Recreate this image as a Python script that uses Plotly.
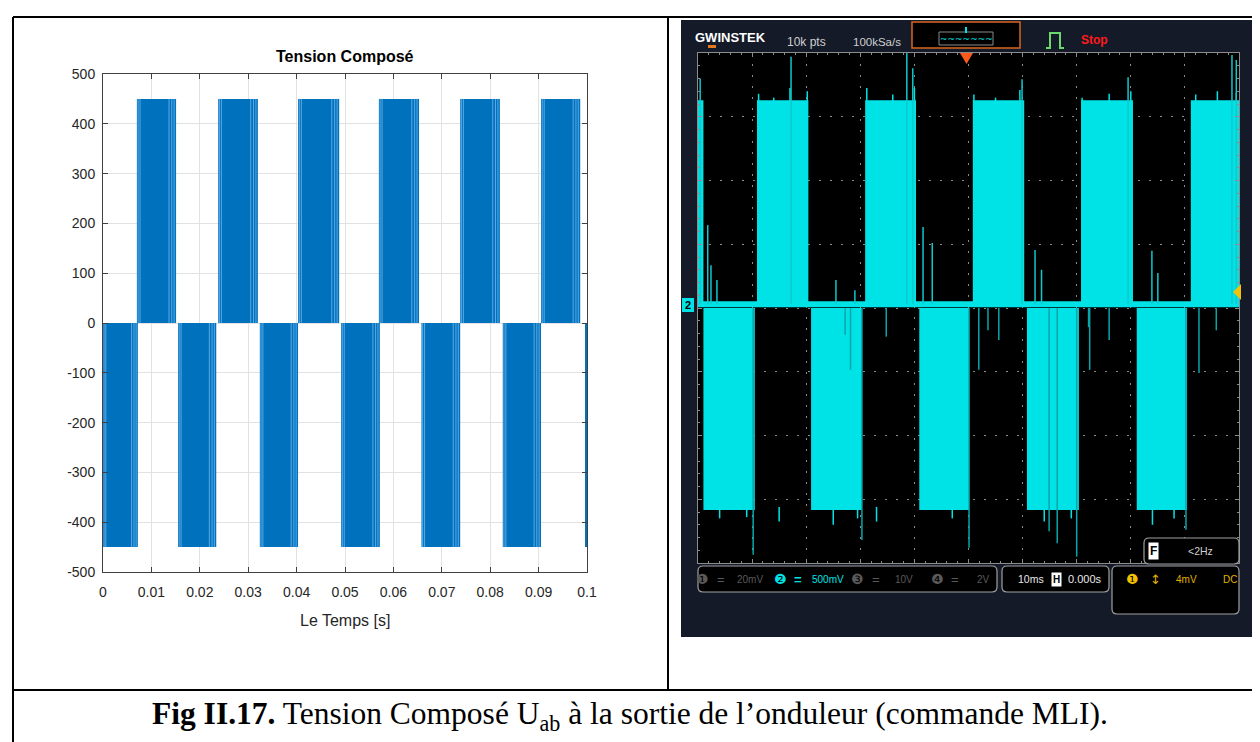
import plotly.graph_objects as go

W, H = 1260, 742
# measured placement of the plot paper inside the captured page
OX, OY, FW, FH = 12, 16, 1246, 726

# ---------------- Left panel: simulated line voltage (MATLAB) ----------------
sim_pos_start = [0.0070, 0.0238, 0.0403, 0.0570, 0.0738, 0.0905]
sim_pos_end = [0.0151, 0.0320, 0.0488, 0.0653, 0.0820, 0.0986]
sim_neg_start = [0.0000, 0.0155, 0.0324, 0.0492, 0.0658, 0.0826, 0.0996]
sim_neg_end = [0.0072, 0.0234, 0.0403, 0.0572, 0.0738, 0.0905, 0.1000]
sim_level = 450
stripe_frac = [0.03, 0.08, 0.82, 0.89, 0.95]
x_ticks = [0, 0.01, 0.02, 0.03, 0.04, 0.05, 0.06, 0.07, 0.08, 0.09, 0.1]
x_tick_text = ["0", "0.01", "0.02", "0.03", "0.04", "0.05", "0.06", "0.07", "0.08", "0.09", "0.1"]
y_ticks = [-500, -400, -300, -200, -100, 0, 100, 200, 300, 400, 500]
y_tick_text = ["-500", "-400", "-300", "-200", "-100", "0", "100", "200", "300", "400", "500"]

# ---------------- Right panel: oscilloscope capture (divisions) ----------------
scope_pos_start = [-5.00, -3.91, -1.91, 0.08, 2.08, 4.11]
scope_pos_end = [-4.90, -2.96, -0.97, 1.03, 3.04, 5.00]
scope_neg_start = [-4.90, -2.91, -0.91, 1.08, 3.11]
scope_neg_end = [-3.95, -1.97, 0.01, 2.04, 4.04]
scope_pos_level = 3.26
scope_neg_level = -3.17
scope_baseline = 0.06
spike_up_x = [-4.96, -3.28, -1.14, -1.03, 0.99, 2.95, 4.87, 4.95,
              -4.82, -4.76, -4.65, -2.45, -2.10, -0.84, -0.67, 1.23, 1.35, 3.39, 3.50]
spike_up_y = [3.60, 3.94, 4.02, 3.76, 3.59, 3.62, 3.97, 3.89,
              1.30, 0.67, 0.44, 0.44, 0.28, 1.27, 1.02, 0.91, 0.60, 0.90, 0.55]
spike_dn_x = [-3.98, -1.97, 0.01, 2.00, 4.02, 0.19, 0.36, 0.56, 2.24, 2.22, 2.60,
              4.26, 4.58, -2.28, -2.18, -1.52, 1.49, 1.64]
spike_dn_y = [-3.87, -3.64, -3.76, -3.90, -3.48, -0.97, -0.35, -0.50, -0.97, -0.30, -0.50,
              -1.02, -0.35, -0.42, -0.97, -0.45, -3.50, -3.69]
top_noise_x = [-3.88, -3.60, -3.30, -2.98, -1.88, -1.40, -1.00, 0.10, 0.50, 0.95,
               2.10, 2.60, 3.00, 4.20, 4.60, 4.95]
top_noise_y = [3.36, 3.30, 3.45, 3.40, 3.45, 3.35, 3.45, 3.35, 3.30, 3.42,
               3.30, 3.36, 3.40, 3.35, 3.40, 3.38]
bot_noise_x = [-4.60, -4.10, -3.50, -2.50, -2.05, -1.70, -0.30, 1.40, 1.90, 3.40, 3.80]
bot_noise_y = [-3.30, -3.28, -3.35, -3.40, -3.30, -3.35, -3.30, -3.35, -3.30, -3.40, -3.30]


def px(x):
    return (x - OX) / FW


def py(y):
    return 1 - (y - OY) / FH


def rrect(x0, y0, x1, y1, r):
    X0, X1 = px(x0), px(x1)
    Y0, Y1 = py(y0), py(y1)
    rx, ry = r / FW, r / FH
    return (f"M {X0+rx},{Y0} L {X1-rx},{Y0} Q {X1},{Y0} {X1},{Y0-ry} "
            f"L {X1},{Y1+ry} Q {X1},{Y1} {X1-rx},{Y1} L {X0+rx},{Y1} "
            f"Q {X0},{Y1} {X0},{Y1+ry} L {X0},{Y0-ry} Q {X0},{Y0} {X0+rx},{Y0} Z")


fig = go.Figure()

# ---- left panel traces ----
blue = "#0072BD"
fig.add_trace(go.Bar(
    x=[(a + b) / 2 for a, b in zip(sim_pos_start, sim_pos_end)],
    width=[b - a for a, b in zip(sim_pos_start, sim_pos_end)],
    y=[sim_level] * len(sim_pos_start),
    marker=dict(color=blue, line=dict(width=0)), xaxis="x", yaxis="y"))
fig.add_trace(go.Bar(
    x=[(a + b) / 2 for a, b in zip(sim_neg_start, sim_neg_end)],
    width=[b - a for a, b in zip(sim_neg_start, sim_neg_end)],
    y=[-sim_level] * len(sim_neg_start),
    marker=dict(color=blue, line=dict(width=0)), xaxis="x", yaxis="y"))

sx, sy = [], []
for starts, ends, lev in ((sim_pos_start, sim_pos_end, sim_level),
                          (sim_neg_start, sim_neg_end, -sim_level)):
    for a, b in zip(starts, ends):
        if b - a < 0.002:
            continue
        for f in stripe_frac:
            t = a + f * (b - a)
            sx += [t, t, None]
            sy += [0, lev, None]
fig.add_trace(go.Scatter(x=sx, y=sy, mode="lines", line=dict(color="#5aa9e6", width=1),
                         xaxis="x", yaxis="y"))

# ---- scope traces ----
cyan = "#00E3E6"
fig.add_trace(go.Bar(
    x=[(a + b) / 2 for a, b in zip(scope_pos_start, scope_pos_end)],
    width=[b - a for a, b in zip(scope_pos_start, scope_pos_end)],
    y=[scope_pos_level - scope_baseline] * len(scope_pos_start),
    base=[scope_baseline] * len(scope_pos_start),
    marker=dict(color=cyan, line=dict(width=0)), xaxis="x2", yaxis="y2"))
fig.add_trace(go.Bar(
    x=[(a + b) / 2 for a, b in zip(scope_neg_start, scope_neg_end)],
    width=[b - a for a, b in zip(scope_neg_start, scope_neg_end)],
    y=[scope_neg_level] * len(scope_neg_start),
    base=[0] * len(scope_neg_start),
    marker=dict(color=cyan, line=dict(width=0)), xaxis="x2", yaxis="y2"))
fig.add_trace(go.Scatter(x=[-5, 5], y=[scope_baseline, scope_baseline], mode="lines",
                         line=dict(color=cyan, width=6), xaxis="x2", yaxis="y2"))
nx, ny = [], []
for x, y in zip(top_noise_x, top_noise_y):
    nx += [x, x, None]
    ny += [scope_pos_level - 0.05, y, None]
for x, y in zip(bot_noise_x, bot_noise_y):
    nx += [x, x, None]
    ny += [scope_neg_level + 0.05, y, None]
fig.add_trace(go.Scatter(x=nx, y=ny, mode="lines", line=dict(color=cyan, width=1.5),
                         xaxis="x2", yaxis="y2"))
ux, uy = [], []
for x, y in zip(spike_up_x, spike_up_y):
    ux += [x, x, None]
    uy += [scope_baseline, y, None]
fig.add_trace(go.Scatter(x=ux, y=uy, mode="lines", line=dict(color="#10c8cc", width=1.5),
                         xaxis="x2", yaxis="y2"))
dx, dy = [], []
for x, y in zip(spike_dn_x, spike_dn_y):
    dx += [x, x, None]
    dy += [0, y, None]
fig.add_trace(go.Scatter(x=dx, y=dy, mode="lines", line=dict(color="#0aa5aa", width=1.5),
                         xaxis="x2", yaxis="y2"))

# ---- axes ----
axis_col = "#404040"
txt_col = "#262626"
fig.update_layout(
    width=W, height=H, margin=dict(l=0, r=0, t=0, b=0),
    paper_bgcolor="white", plot_bgcolor="white", showlegend=False,
    barmode="overlay", hovermode=False,
    font=dict(family="Liberation Sans, Arial, sans-serif", color=txt_col),
    xaxis=dict(domain=[px(103), px(587)], range=[0, 0.1], tickvals=x_ticks, ticktext=x_tick_text,
               ticks="inside", ticklen=5, tickcolor=axis_col, mirror="allticks", showline=True,
               linecolor=axis_col, linewidth=1, showgrid=True, gridcolor="#e2e2e2", zeroline=False,
               tickfont=dict(size=14, color=txt_col), ticklabelstandoff=7),
    yaxis=dict(domain=[py(572), py(74)], range=[-500, 500], tickvals=y_ticks, ticktext=y_tick_text,
               ticks="inside", ticklen=5, tickcolor=axis_col, mirror="allticks", showline=True,
               linecolor=axis_col, linewidth=1, showgrid=True, gridcolor="#e2e2e2", zeroline=False,
               tickfont=dict(size=14, color=txt_col), ticklabelstandoff=4),
    xaxis2=dict(domain=[px(698), px(1239)], range=[-5, 5], dtick=1, anchor="y2",
                showticklabels=False, showgrid=True, gridcolor="#8a8a8a", griddash="2px,9px",
                zeroline=False, showline=True, linecolor="#8c8c8c", mirror="allticks",
                ticks="inside", ticklen=4, tickcolor="#8c8c8c",
                minor=dict(dtick=0.2, ticks="inside", ticklen=2, tickcolor="#8c8c8c", showgrid=False)),
    yaxis2=dict(domain=[py(563), py(53)], range=[-4, 4], dtick=1, anchor="x2",
                showticklabels=False, showgrid=True, gridcolor="#8a8a8a", griddash="2px,9px",
                zeroline=False, showline=True, linecolor="#8c8c8c", mirror="allticks",
                ticks="inside", ticklen=4, tickcolor="#8c8c8c",
                minor=dict(dtick=0.2, ticks="inside", ticklen=2, tickcolor="#8c8c8c", showgrid=False)),
)

shapes = []
shapes.append(dict(type="rect", xref="paper", yref="paper", x0=px(681), x1=px(1256), y0=py(637), y1=py(20),
                   fillcolor="#141a28", line=dict(width=0), layer="below"))
shapes.append(dict(type="rect", xref="paper", yref="paper", x0=px(698), x1=px(1239), y0=py(563), y1=py(53),
                   fillcolor="black", line=dict(width=0), layer="below"))
shapes.append(dict(type="rect", xref="paper", yref="paper", x0=px(708), x1=px(716), y0=py(48), y1=py(45),
                   fillcolor="#e87722", line=dict(width=0)))
shapes.append(dict(type="rect", xref="paper", yref="paper", x0=px(912), x1=px(1020), y0=py(48), y1=py(22),
                   fillcolor="black", line=dict(color="#d9661f", width=1.5)))
shapes.append(dict(type="rect", xref="paper", yref="paper", x0=px(939), x1=px(993), y0=py(45), y1=py(32),
                   fillcolor="black", line=dict(color="#8a8a8a", width=1)))
shapes.append(dict(type="line", xref="paper", yref="paper", x0=px(966), x1=px(966), y0=py(33), y1=py(27),
                   line=dict(color=cyan, width=2)))
gp = [(1046, 48), (1050, 48), (1050, 33), (1060, 33), (1060, 48), (1064, 48)]
shapes.append(dict(type="path", xref="paper", yref="paper",
                   path="M " + " L ".join(f"{px(a)},{py(b)}" for a, b in gp),
                   line=dict(color="#6ad86a", width=2)))
shapes.append(dict(type="path", xref="paper", yref="paper",
                   path=f"M {px(960)},{py(53)} L {px(973)},{py(53)} L {px(966.5)},{py(64)} Z",
                   fillcolor="#ff5a1e", line=dict(width=0)))
shapes.append(dict(type="rect", xref="paper", yref="paper", x0=px(682), x1=px(694), y0=py(312), y1=py(298),
                   fillcolor=cyan, line=dict(width=0)))
shapes.append(dict(type="path", xref="paper", yref="paper",
                   path=f"M {px(1241)},{py(284)} L {px(1233)},{py(292)} L {px(1241)},{py(300)} Z",
                   fillcolor="#f4c20d", line=dict(width=0)))
for (a, b, c, d) in [(698, 566, 997, 592), (1002, 566, 1109, 592), (1112, 566, 1239, 614),
                     (1144, 538, 1239, 564)]:
    shapes.append(dict(type="path", xref="paper", yref="paper", path=rrect(a, b, c, d, 5),
                       fillcolor="black", line=dict(color="#a0a0a0", width=1.2)))
for (a, b, c, d) in [(13, 17, 1257, 17), (13, 17, 13, 742), (1257, 17, 1257, 742),
                     (668, 17, 668, 690), (13, 690, 1257, 690)]:
    shapes.append(dict(type="line", xref="paper", yref="paper", x0=px(a), y0=py(b), x1=px(c), y1=py(d),
                       line=dict(color="black", width=2)))
fig.update_layout(shapes=shapes)

ann = []


def T(text, x, y, size, color, family="Liberation Sans, Arial, sans-serif", xanchor="center", **kw):
    ann.append(dict(text=text, x=px(x), y=py(y), xref="paper", yref="paper", showarrow=False,
                    xanchor=xanchor, yanchor="middle", font=dict(size=size, color=color, family=family), **kw))


T("<b>Tension Composé</b>", 345, 57, 16, "#000000")
T("Le Temps [s]", 345, 620, 16, txt_col)
T("<b>Fig II.17.</b> Tension Composé U<sub>ab</sub> à la sortie de l’onduleur (commande MLI).",
  630, 716, 31.5, "black", family="Liberation Serif, Times New Roman, serif")

sans = "Liberation Sans, Arial, sans-serif"
T("<b>GWINSTEK</b>", 730, 37, 13, "white", family=sans)
T("10k pts", 806, 42, 12, "#cfcfcf", family=sans)
T("100kSa/s", 877, 42, 11.5, "#cfcfcf", family=sans)
T("~~~~~~~", 966, 39, 9, cyan, family="DejaVu Sans")
T("<b>Stop</b>", 1094, 40, 12, "#ff1a1a", family=sans)
T("<b>2</b>", 688, 305, 11, "black", family=sans)

T("❶", 702, 579, 14, "#5a5a5a", family="DejaVu Sans")
T("=", 721, 579, 13, "#5a5a5a", family=sans)
T("20mV", 750, 579, 10, "#5a5a5a", family=sans)
T("❷", 780, 579, 14, cyan, family="DejaVu Sans")
T("<b>=</b>", 798, 579, 13, cyan, family=sans)
T("500mV", 828, 579, 10, cyan, family=sans)
T("❸", 857, 579, 14, "#5a5a5a", family="DejaVu Sans")
T("=", 876, 579, 13, "#5a5a5a", family=sans)
T("10V", 904, 579, 10, "#5a5a5a", family=sans)
T("❹", 937, 579, 14, "#5a5a5a", family="DejaVu Sans")
T("=", 955, 579, 13, "#5a5a5a", family=sans)
T("2V", 983, 579, 10, "#5a5a5a", family=sans)

T("10ms", 1031, 579, 10.5, "#e8e8e8", family=sans)
T("<b>H</b>", 1056, 579, 10, "black", family=sans, bgcolor="white", borderpad=1)
T("0.000s", 1085, 579, 11, "#e8e8e8", family=sans)

T("❶", 1132, 579, 14, "#f2c200", family="DejaVu Sans")
T("↕", 1155, 579, 13, "#e0b000", family="DejaVu Sans")
T("4mV", 1186, 579, 10, "#e0b000", family=sans)
T("DC", 1230, 579, 10, "#e0b000", family=sans)

T("<b>F</b>", 1153, 551, 12, "black", family=sans, bgcolor="white", borderpad=1)
T("<2Hz", 1200, 551, 10.5, "#cfcfcf", family=sans)

fig.update_layout(annotations=ann)
fig.write_html("out.html")
